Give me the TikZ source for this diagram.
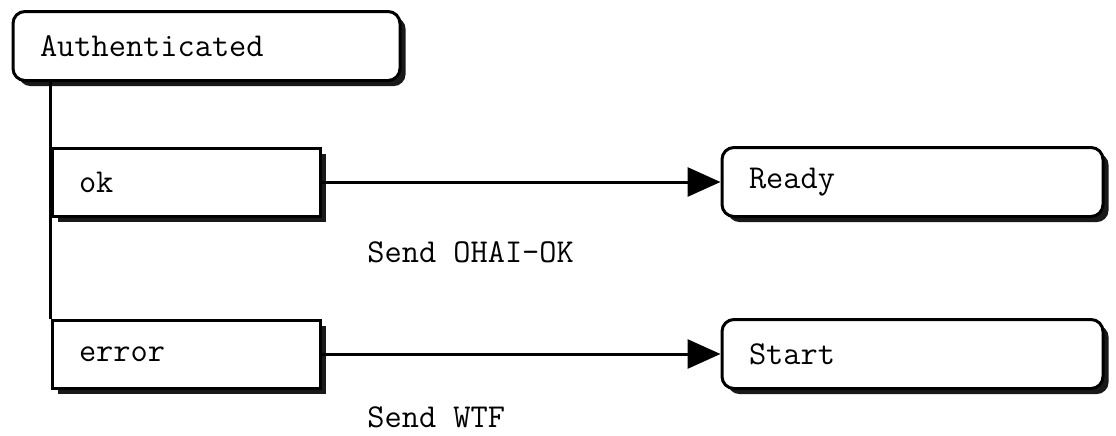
\documentclass[tikz,border=0pt]{standalone}
\usepackage{fontspec}
\usepackage{tikz}
\usetikzlibrary{arrows.meta,positioning,shadows}

\begin{document}
\begin{tikzpicture}[x=0.5pt,y=-0.5pt,
  every node/.style={font=\fontsize{16.7}{20}\selectfont\ttfamily},
  hardshadow/.style={drop shadow={shadow xshift=2.8pt,shadow yshift=-2.8pt,fill=black,opacity=0.9}},
  statebox/.style={draw=black,line width=1.5pt,fill=white,rounded corners=6pt,hardshadow,
        minimum height=34.5pt,inner xsep=13.5pt,align=left},
  choicebox/.style={draw=black,line width=1.5pt,fill=white,hardshadow,
        minimum height=34pt,inner xsep=13.5pt,text width=107pt,align=left},
  note/.style={inner sep=0pt,anchor=west}]
  \useasboundingbox (0,0) rectangle (1116,435);
  \node[statebox,text width=166.5pt] (auth) at (206.5,46) {Authenticated};
  \node[choicebox] (ok) at (186,182) {ok};
  \node[choicebox] (error) at (186,354) {error};
  \node[statebox,text width=163.5pt] (ready) at (912.5,182) {Ready};
  \node[statebox,text width=163.5pt] (start) at (912.5,354) {Start};
  \draw[line width=1.5pt] (auth.south -| ok.west) -- (error.north -| ok.west);
  \draw[line width=1.5pt,-{Triangle[length=16.5pt,width=14.5pt]}] (ok) -- (ready);
  \draw[line width=1.5pt,-{Triangle[length=16.5pt,width=14.5pt]}] (error) -- (start);
  \node[note] (ohai) at (367,252.5) {Send OHAI-OK};
  \node[note] (wtf) at (367,417) {Send WTF};
\end{tikzpicture}
\end{document}
